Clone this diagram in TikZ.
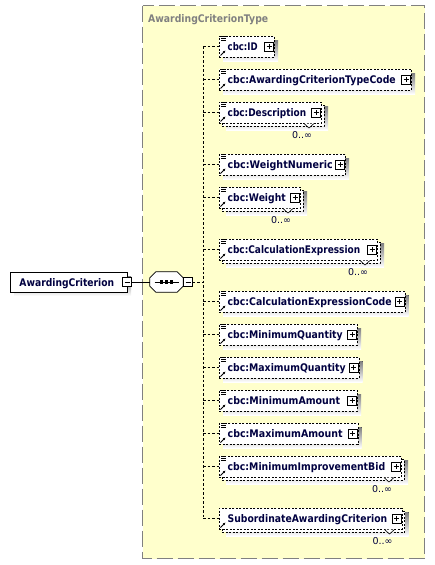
\documentclass[tikz,border=0pt]{standalone}
\usepackage{graphicx}
\usepackage{fontspec}
\setmainfont{DejaVu Sans}
\usetikzlibrary{arrows.meta}

\definecolor{typebg}{RGB}{255,255,204}
\definecolor{typeedge}{RGB}{128,128,128}
\definecolor{shade}{RGB}{192,192,192}
\definecolor{navy}{RGB}{0,0,64}

% fit a label to the width it has in the schema view
\newcommand{\fitlabel}[2]{\resizebox{#1pt}{\height}{#2}}

\tikzset{
  elemedge/.style={draw=black, line width=0.8pt, dash pattern=on 2pt off 1.5pt},
  elembox/.style={elemedge, fill=white, inner sep=0pt, minimum height=21pt},
  elemtext/.style={anchor=base west, inner sep=0pt, text=navy, font=\fontsize{10.5}{12}\selectfont\bfseries},
  occtext/.style={inner sep=0pt, text=navy, font=\fontsize{9.5}{11}\selectfont},
  conn/.style={draw=black, line width=0.8pt, dash pattern=on 2.5pt off 2pt},
  plusbox/.style={draw=black, solid, line width=0.7pt, fill=white, inner sep=0pt, minimum size=9pt,
    path picture={\draw[line width=0.7pt] ([xshift=-2.5pt]path picture bounding box.center) -- ([xshift=2.5pt]path picture bounding box.center);
                  \draw[line width=0.7pt] ([yshift=-2.5pt]path picture bounding box.center) -- ([yshift=2.5pt]path picture bounding box.center);}},
  minusbox/.style={draw=black, solid, line width=0.7pt, fill=white, inner sep=0pt, minimum size=9pt,
    path picture={\draw[line width=0.7pt] ([xshift=-2.5pt]path picture bounding box.center) -- ([xshift=2.5pt]path picture bounding box.center);}},
  seqbox/.style={inner sep=0pt, minimum width=33pt, minimum height=20pt}
}

\begin{document}
\begin{tikzpicture}[x=1pt, y=-1pt]
\useasboundingbox (0,0) rectangle (435,565);

% type container
\draw[draw=typeedge, fill=typebg, line width=1pt, dash pattern=on 16pt off 5pt] (142.5,5.5) rectangle (424.5,558.5);
\node[elemtext, text=typeedge] (tname) at (148,22) {\fitlabel{120}{AwardingCriterionType}};

% root element
\fill[shade] (14,276) rectangle (131,296);
\node[draw=black, line width=0.8pt, fill=white, inner sep=0pt, minimum width=117pt, minimum height=20pt, anchor=west] (ac) at (10,282) {};
\node[elemtext] (actext) at (19.3,286) {\fitlabel{94.7}{AwardingCriterion}};
\node[minusbox] (acminus) at (127,282) {};

% sequence compositor
\node[seqbox] (seq) at (166.5,282) {};
\draw[fill=shade, draw=none, shift={(4,4)}]
  ([xshift=6pt]seq.north west) -- ([xshift=-6pt]seq.north east) -- ([yshift=-6pt]seq.north east)
  -- ([yshift=6pt]seq.south east) -- ([xshift=-6pt]seq.south east) -- ([xshift=6pt]seq.south west)
  -- ([yshift=6pt]seq.south west) -- ([yshift=-6pt]seq.north west) -- cycle;
\draw[fill=white, line width=0.8pt]
  ([xshift=6pt]seq.north west) -- ([xshift=-6pt]seq.north east) -- ([yshift=-6pt]seq.north east)
  -- ([yshift=6pt]seq.south east) -- ([xshift=-6pt]seq.south east) -- ([xshift=6pt]seq.south west)
  -- ([yshift=6pt]seq.south west) -- ([yshift=-6pt]seq.north west) -- cycle;
\draw[line width=0.8pt] ([xshift=-12pt]seq.center) -- ([xshift=12pt]seq.center);
\foreach \dx in {-5,0,5}
  \fill ([xshift=\dx pt]seq.center) +(-1.7,-1.7) rectangle +(1.7,1.7);
\node[minusbox] (seqminus) at (188,282) {};
\coordinate (spine) at (203,282);

\draw[line width=0.8pt] (acminus.east) -- (seq.west);
\draw[conn] (seqminus.east) -- (spine);

% child elements
\foreach \n/\y/\r/\t/\w/\m/\d in {
  id/46.5/274/cbc:ID/30/0/1,
  code/79.5/411/cbc:AwardingCriterionTypeCode/168/0/1,
  desc/112.5/321/cbc:Description/78.5/1/1,
  wnum/164.5/345/cbc:WeightNumeric/105/0/1,
  wgt/197.5/300/cbc:Weight/58/1/1,
  cexp/249.5/377/cbc:CalculationExpression/132.5/1/1,
  ccode/301.5/404.5/cbc:CalculationExpressionCode/164/0/1,
  minq/334.5/357/cbc:MinimumQuantity/115/0/1,
  maxq/367.5/358.5/cbc:MaximumQuantity/118/0/1,
  mina/400.5/357/cbc:MinimumAmount/112.5/0/1,
  maxa/433.5/357.5/cbc:MaximumAmount/115/0/1,
  minb/466.5/401/cbc:MinimumImprovementBid/157.5/1/1,
  sub/518.5/401.5/SubordinateAwardingCriterion/159.5/1/0}
{
  \ifnum\m=1
    \fill[shade] (226,\y-6.5) rectangle (\r+7,\y+17.5);
    \draw[elemedge, fill=white] (222,\y-7.5) rectangle (\r+3,\y+13.5);
  \else
    \fill[shade] (223,\y-6.5) rectangle (\r+4,\y+14.5);
  \fi
  \node[elembox, minimum width=\r-219, anchor=west] (\n) at (219,\y) {};
  \node[elemtext] (\n-name) at (227.5,\y+4) {\fitlabel{\w}{\t}};
  \node[plusbox] (\n-plus) at (\r-5,\y) {};
  \ifnum\d=1
    \draw[line width=0.7pt] (221,\y-10) -- ++(5,0) (221,\y-8.3) -- ++(5,0) (221,\y-6.6) -- ++(5,0);
  \fi
  \draw[line width=0.9pt, -{Latex[length=2.6pt,width=2.6pt]}] (220.5,\y+9) -- (225.5,\y+4);
  \ifnum\m=1
    \filldraw[fill=white, draw=black, line width=0.6pt] (\r-17,\y+11) -- (\r-12,\y+15.5) -- (\r-7,\y+11);
    \node[occtext] (\n-occ) at (\r-19,\y+23) {0..∞};
  \fi
}

% connectors
\draw[conn] (id.west -| spine) -- (sub.west -| spine);
\foreach \n in {id,code,desc,wnum,wgt,cexp,ccode,minq,maxq,mina,maxa,minb,sub}
  \draw[conn] (\n.west -| spine) -- (\n.west);

\end{tikzpicture}
\end{document}
